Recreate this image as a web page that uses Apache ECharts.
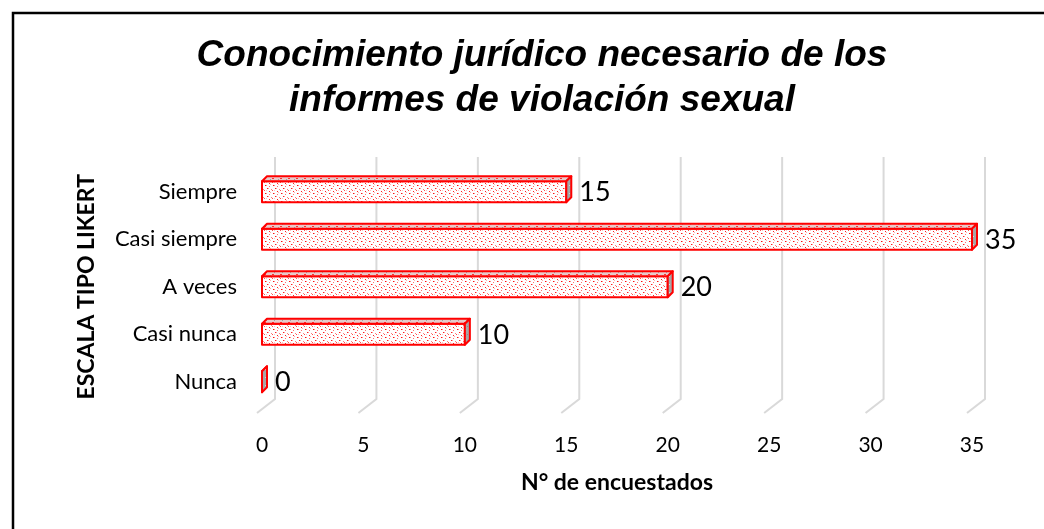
<!DOCTYPE html>
<html>
<head>
<meta charset="utf-8">
<script src="https://cdn.jsdelivr.net/npm/echarts@6/dist/echarts.min.js"></script>
<style>
  html, body { margin: 0; padding: 0; background: #fff; }
  #chart { width: 1044px; height: 529px; }
</style>
</head>
<body>
<div id="chart"></div>
<script>
const categorias = ['Siempre', 'Casi siempre', 'A veces', 'Casi nunca', 'Nunca'];
const encuestados = [15, 35, 20, 10, 0];
const ticksX = [0, 5, 10, 15, 20, 25, 30, 35];

// textura punteada tipo Excel
const makePattern = (bg, dots) => {
    const c = document.createElement('canvas');
    c.width = 8; c.height = 8;
    const ctx = c.getContext('2d');
    ctx.fillStyle = bg;
    ctx.fillRect(0, 0, 8, 8);
    dots.forEach(([x, y, col]) => {
        ctx.fillStyle = col;
        ctx.fillRect(x, y, 1, 1);
    });
    return {image: c, repeat: 'repeat'};
};
const frontFill = makePattern('#ffffff', [
    [1, 1, '#ff1010'], [2, 1, '#ff9090'], [5, 2, '#ff7070'], [3, 4, '#ff2020'], [4, 4, '#ffa0a0'],
    [7, 5, '#ff8080'], [0, 6, '#ff5050'], [5, 7, '#ff2020'], [6, 0, '#ffb0b0'], [2, 6, '#ffc0c0']
]);
const topFill = makePattern('#e8caca', [
    [0, 2, '#ff3030'], [1, 2, '#ff3030'], [4, 5, '#ff5050'], [5, 5, '#ff5050'], [2, 0, '#a0a0a0'], [6, 3, '#a0a0a0']
]);
const sideFill = makePattern('#a6a6a6', [
    [1, 1, '#d0d0d0'], [5, 4, '#d8d8d8'], [3, 6, '#8c8c8c']
]);

const RED = '#ff0000';
const BAR_H = 21;
const DEPTH = 5;

const chart = echarts.init(document.getElementById('chart'));

chart.setOption({
    animation: false,
    backgroundColor: '#ffffff',
    title: {
        text: 'Conocimiento jurídico necesario de los\ninformes de violación sexual',
        left: 537,
        top: 28,
        textAlign: 'center',
        textStyle: {
            fontFamily: 'Liberation Sans',
            fontStyle: 'italic',
            fontWeight: 'bold',
            fontSize: 37,
            lineHeight: 45,
            color: '#000'
        }
    },
    graphic: [
        {
            type: 'rect',
            shape: {x: 13, y: 13, width: 1100, height: 600},
            style: {fill: null, stroke: '#000', lineWidth: 2.5},
            silent: true
        }
    ],
    grid: {left: 262, right: 72, top: 168, bottom: 123.5},
    xAxis: {
        type: 'value',
        min: 0,
        max: 35,
        interval: 5,
        name: 'N° de encuestados',
        nameLocation: 'middle',
        nameGap: 66,
        nameTextStyle: {fontFamily: 'Lato', fontWeight: 'bold', fontSize: 23, color: '#000'},
        axisLine: {show: false},
        axisTick: {show: false},
        splitLine: {show: false},
        axisLabel: {margin: 29, fontFamily: 'Lato', fontSize: 21, color: '#000'}
    },
    yAxis: {
        type: 'category',
        data: categorias,
        inverse: true,
        name: 'ESCALA TIPO LIKERT',
        nameLocation: 'middle',
        nameRotate: 90,
        nameGap: 164,
        nameTextStyle: {fontFamily: 'Lato', fontWeight: 'bold', fontSize: 23, color: '#000'},
        axisLine: {show: false},
        axisTick: {show: false},
        axisLabel: {margin: 25, fontFamily: 'Lato', fontSize: 22, color: '#000'}
    },
    series: [
        {
            // lineas de division con base en perspectiva
            type: 'custom',
            z: 1,
            silent: true,
            data: ticksX.map(v => [v]),
            encode: {x: 0},
            renderItem: (params, api) => {
                const cs = params.coordSys;
                const x = api.coord([api.value(0), 0])[0] + 13;
                const yTop = cs.y - 11;
                const yBot = cs.y + cs.height - 6.5;
                return {
                    type: 'polyline',
                    shape: {points: [[x, yTop], [x, yBot], [x - 18, yBot + 14]]},
                    style: {stroke: '#d9d9d9', lineWidth: 2, fill: null}
                };
            }
        },
        {
            type: 'custom',
            z: 5,
            data: encuestados.map((v, i) => [v, i]),
            encode: {x: 0, y: 1},
            renderItem: (params, api) => {
                const v = api.value(0);
                const cat = api.value(1);
                const p0 = api.coord([0, cat]);
                const p1 = api.coord([v, cat]);
                const x0 = p0[0], x1 = p1[0];
                const yt = p0[1] - BAR_H / 2, yb = p0[1] + BAR_H / 2;
                const d = DEPTH;
                const stroke = {stroke: RED, lineWidth: 2, lineJoin: 'round'};
                return {
                    type: 'group',
                    children: [
                        {
                            type: 'rect',
                            shape: {x: x0, y: yt, width: x1 - x0, height: BAR_H},
                            style: Object.assign({fill: frontFill}, stroke)
                        },
                        {
                            type: 'polygon',
                            shape: {points: [[x0, yt], [x0 + d, yt - d], [x1 + d, yt - d], [x1, yt]]},
                            style: Object.assign({fill: topFill}, stroke)
                        },
                        {
                            type: 'polygon',
                            shape: {points: [[x1, yt], [x1 + d, yt - d], [x1 + d, yb - d], [x1, yb]]},
                            style: Object.assign({fill: sideFill}, stroke)
                        },
                        {
                            type: 'text',
                            x: x1 + d + 8,
                            y: p0[1] + 1,
                            style: {
                                text: String(v),
                                fontFamily: 'Lato',
                                fontSize: 27,
                                fill: '#000',
                                verticalAlign: 'middle',
                                align: 'left'
                            }
                        }
                    ]
                };
            }
        }
    ]
});
</script>
</body>
</html>
